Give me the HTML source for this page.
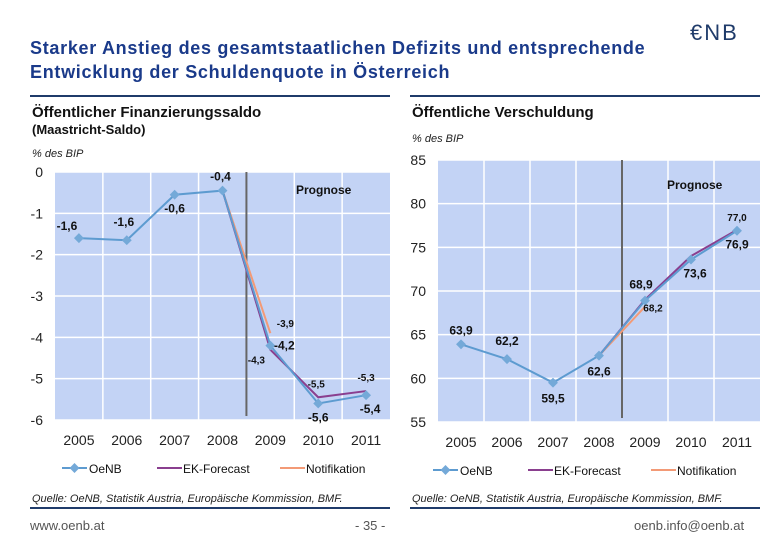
<!DOCTYPE html>
<html><head><meta charset="utf-8"><style>
body{margin:0;width:780px;height:540px;background:#fff;font-family:"Liberation Sans",sans-serif;overflow:hidden;position:relative}
.t{position:absolute;white-space:nowrap}
</style></head><body>
<div class="t" style="left:30px;top:36px;font-size:18px;font-weight:bold;letter-spacing:0.7px;color:#1a3a8a;line-height:24px">Starker Anstieg des gesamtstaatlichen Defizits und entsprechende<br>Entwicklung der Schuldenquote in Österreich</div>
<div class="t" style="left:690px;top:20px;font-size:22px;color:#1f3b6a;letter-spacing:2px">€NB</div>
<div class="t" style="left:30px;top:518px;font-size:13px;color:#555">www.oenb.at</div>
<div class="t" style="left:355px;top:518px;font-size:13px;color:#555">- 35 -</div>
<div class="t" style="left:634px;top:518px;font-size:13px;color:#555">oenb.info@oenb.at</div>
<svg id="svg" width="780" height="540" style="position:absolute;left:0;top:0"></svg>
<script>
const years=["2005","2006","2007","2008","2009","2010","2011"];
const saldoOeNB=[-1.6,-1.65,-0.55,-0.45,-4.2,-5.6,-5.4];
const saldoEK=[null,null,null,-0.45,-4.3,-5.45,-5.3];
const saldoNotif=[null,null,null,-0.45,-3.9,null,null];
const saldoLabels=[["-1,6",-12,-8,1],["-1,6",-3,-14,1],["-0,6",0,18,1],["-0,4",-2,-10,1],["-4,2",14,4,1],["-5,6",0,18,1],["-5,4",4,18,1]];
const schuldOeNB=[63.9,62.2,59.5,62.6,68.9,73.6,76.9];
const schuldEK=[null,null,null,62.6,69.0,74.0,77.0];
const schuldNotif=[null,null,null,62.6,68.2,null,null];
const schuldLabels=[["63,9",0,-10,1],["62,2",0,-14,1],["59,5",0,20,1],["62,6",0,20,1],["68,9",-4,-12,1],["73,6",4,18,1],["76,9",0,18,1]];
const saldoTicks=[0,-1,-2,-3,-4,-5,-6];
const schuldTicks=[85,80,75,70,65,60,55];
const svg=document.getElementById('svg');const NS='http://www.w3.org/2000/svg';
function el(t,a,txt){const e=document.createElementNS(NS,t);for(const k in a)e.setAttribute(k,a[k]);if(txt!=null)e.textContent=txt;svg.appendChild(e);return e;}
function chart(cfg){
 const {x0,x1,y0,y1,vmin,vmax,ticks,oe,ek,nf,labels,extra,name}=cfg;
 const w=(x1-x0)/years.length;
 const X=i=>x0+w*(i+0.5);const Y=v=>y0+(vmax-v)/(vmax-vmin)*(y1-y0);
 let r=el('rect',{x:x0,y:y0,width:x1-x0,height:y1-y0,fill:'#c3d3f5'});
 
 ticks.forEach(t=>{el('line',{x1:x0,x2:x1,y1:Y(t),y2:Y(t),stroke:'#fff','stroke-width':1.5});
  let tx=el('text',{x:x0-12,y:Y(t)+5,'text-anchor':'end','font-size':14,fill:'#222'},String(t));
  });
 years.forEach((yr,i)=>{if(i>0&&i!=4)el('line',{x1:x0+w*i,x2:x0+w*i,y1:y0,y2:y1,stroke:'#fff','stroke-width':1.5});
  let tx=el('text',{x:X(i),y:y1+25,'text-anchor':'middle','font-size':14,fill:'#222'},yr);
  });
 el('line',{x1:x0+w*4,x2:x0+w*4,y1:y0,y2:y1-4,stroke:'#666','stroke-width':2});
 let pg=el('text',{x:cfg.progX,y:cfg.progY,'font-size':12,'font-weight':'bold',fill:'#111'},'Prognose');
 
 function line(vals,col,n){const pts=[];vals.forEach((v,i)=>{if(v!=null)pts.push(X(i)+','+Y(v));});
  const p=el('polyline',{points:pts.join(' '),fill:'none',stroke:col,'stroke-width':2});
  }
 line(nf,'#f39a76',name+'-notifikation-line');line(ek,'#8a3f8f',name+'-ek-forecast-line');line(oe,'#5d9bd0',name+'-oenb-line');
 oe.forEach((v,i)=>{const d=el('rect',{x:X(i)-3.5,y:Y(v)-3.5,width:7,height:7,fill:'#74a9d8',transform:`rotate(45 ${X(i)} ${Y(v)})`});
  
  const L=labels[i];const t=el('text',{x:X(i)+L[1],y:Y(v)+L[2],'text-anchor':'middle','font-size':12,'font-weight':'bold',fill:'#111'},L[0]);
  });
 extra.forEach(e=>{const t=el('text',{x:X(e[1])+e[2],y:Y(e[3])+e[4],'text-anchor':'middle','font-size':10,'font-weight':'bold',fill:'#111'},e[0]);
  });
 const ly=y1+48,lx=cfg.legX;
 el('line',{x1:lx,x2:lx+25,y1:ly,y2:ly,stroke:'#5d9bd0','stroke-width':2});
 el('rect',{x:lx+9,y:ly-3.5,width:7,height:7,fill:'#74a9d8',transform:`rotate(45 ${lx+12.5} ${ly})`});
 let a=el('text',{x:lx+27,y:ly+5,'font-size':12,fill:'#111'},'OeNB');
 el('line',{x1:lx+95,x2:lx+120,y1:ly,y2:ly,stroke:'#8a3f8f','stroke-width':2});
 a=el('text',{x:lx+121,y:ly+5,'font-size':12,fill:'#111'},'EK-Forecast');
 el('line',{x1:lx+218,x2:lx+243,y1:ly,y2:ly,stroke:'#f39a76','stroke-width':2});
 a=el('text',{x:lx+244,y:ly+5,'font-size':12,fill:'#111'},'Notifikation');
}
function panel(x0,x1,title,sub,unitY,srcY){
 el('line',{x1:x0,x2:x1,y1:96,y2:96,stroke:'#1f3b6a','stroke-width':2});
 el('line',{x1:x0,x2:x1,y1:508,y2:508,stroke:'#1f3b6a','stroke-width':2});
 let t=el('text',{x:x0+2,y:117,'font-size':15,'font-weight':'bold',fill:'#111'},title);
 if(sub){t=el('text',{x:x0+2,y:134,'font-size':13,'font-weight':'bold',fill:'#111'},sub);}
 t=el('text',{x:x0+2,y:unitY,'font-size':11,'font-style':'italic',fill:'#222'},'% des BIP');
 t=el('text',{x:x0+2,y:srcY,'font-size':11,'font-style':'italic',fill:'#222'},'Quelle: OeNB, Statistik Austria, Europäische Kommission, BMF.');
}
panel(30,390,'Öffentlicher Finanzierungssaldo','(Maastricht-Saldo)',157,502);
panel(410,760,'Öffentliche Verschuldung',null,142,502);
chart({name:'saldo',x0:55,x1:390,y0:172,y1:420,vmin:-6,vmax:0,ticks:saldoTicks,oe:saldoOeNB,ek:saldoEK,nf:saldoNotif,labels:saldoLabels,
 extra:[["-3,9",4,15,-3.9,-6],["-4,3",4,-14,-4.3,14],["-5,5",5,-2,-5.45,-10],["-5,3",6,0,-5.3,-10]],progX:296,progY:194,legX:62});
chart({name:'schuld',x0:438,x1:760,y0:160,y1:422,vmin:55,vmax:85,ticks:schuldTicks,oe:schuldOeNB,ek:schuldEK,nf:schuldNotif,labels:schuldLabels,
 extra:[["77,0",6,0,77,-9],["68,2",4,8,68.2,5]],progX:667,progY:189,legX:433});
</script>
</body></html>
